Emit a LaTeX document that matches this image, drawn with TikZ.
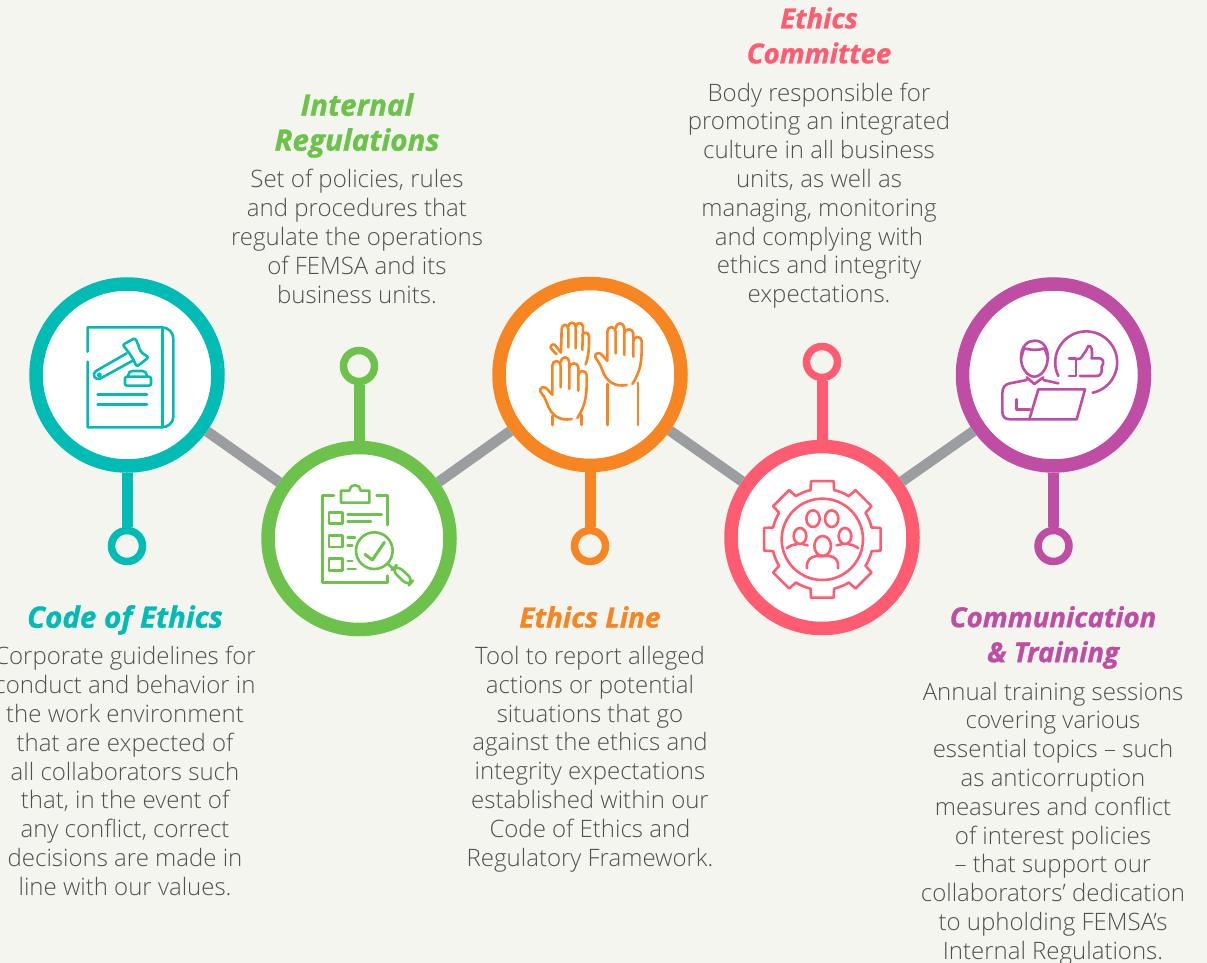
\documentclass[tikz,border=0pt]{standalone}
\usepackage{fontspec}
\setmainfont{Open Sans Light}
\newfontfamily\titlefont[BoldItalicFeatures={FakeBold=0.9}]{Open Sans}
\definecolor{bgc}{HTML}{F4F5EE}
\definecolor{cteal}{HTML}{00BCB4}
\definecolor{cgreen}{HTML}{6CC24A}
\definecolor{corange}{HTML}{F68522}
\definecolor{cpink}{HTML}{FF5C72}
\definecolor{cpurple}{HTML}{BF4DA4}
\definecolor{cgray}{HTML}{9A9EA1}
\definecolor{ctext}{HTML}{505050}
\tikzset{
  ring/.style={circle,draw=#1,fill=white,line width=13.5pt,minimum size=182pt,inner sep=0pt},
  dot/.style={circle,draw=#1,fill=bgc,line width=7.5pt,minimum size=31pt,inner sep=0pt},
  stem/.style={draw=#1,line width=11pt},
  link/.style={draw=cgray,line width=10.5pt},
  head/.style={text=#1,align=center,inner sep=0pt},
  hsize/.style={font=\titlefont\fontsize{#1}{35}\selectfont\bfseries\itshape},
  body/.style={text=ctext,font=\fontsize{24}{28.8}\selectfont,align=center,inner sep=0pt},
  icon/.style={draw=#1,line width=2.6pt,line cap=round,line join=round,x=0.33333pt,y=-0.33333pt}
}
\begin{document}
\begin{tikzpicture}[x=1pt,y=-1pt]
\useasboundingbox (0,0) rectangle (1207,963);
\fill[bgc] (0,0) rectangle (1207,963);
% rings and dots
\node[ring=cteal] (c1) at (127,375) {};
\node[ring=cgreen] (c2) at (359,538.5) {};
\node[ring=corange] (c3) at (590,374.5) {};
\node[ring=cpink] (c4) at (822,537.5) {};
\node[ring=cpurple] (c5) at (1053.5,375) {};
\node[dot=cteal] (d1) at (127,546) {};
\node[dot=cgreen] (d2) at (359,366) {};
\node[dot=corange] (d3) at (590,546) {};
\node[dot=cpink] (d4) at (822,362) {};
\node[dot=cpurple] (d5) at (1053.5,546) {};
% connectors
\draw[link] (c1) -- (c2);
\draw[link] (c2) -- (c3);
\draw[link] (c3) -- (c4);
\draw[link] (c4) -- (c5);
\draw[stem=cteal] (c1) -- (d1);
\draw[stem=cgreen] (c2) -- (d2);
\draw[stem=corange] (c3) -- (d3);
\draw[stem=cpink] (c4) -- (d4);
\draw[stem=cpurple] (c5) -- (d5);
% icon 1
\begin{scope}[xshift=20pt,yshift=-270pt,icon=cteal]
\draw (203,245) -- (203,172) -- (425,172) arc (-90:0:35 and 33) -- (460,440) arc (0:90:35 and 32) -- (203,472) -- (203,275);
\draw (427,172) -- (427,472);
\draw (233,373) -- (381,373) (233,404) -- (381,404);
\draw[rounded corners=2pt] (308,225) -- (345,204) -- (353,220) -- (362,246) -- (386,262) -- (350,290) -- (340,268) -- (325,245) -- cycle;
\draw (320,250) -- (228,303) arc (240:60:13) -- (342,270);
\draw (238,315) circle (4);
\draw[rounded corners=4pt] (325,320) -- (325,303) -- (380,303) -- (380,320);
\draw[rounded corners=2pt] (315,320) -- (393,320) -- (393,347) -- (315,347) -- cycle;
\end{scope}
% icon 2
\begin{scope}[xshift=255pt,yshift=-435pt,icon=cgreen]
\draw (237,182) -- (203,182) -- (203,442) -- (397,442) -- (397,422);
\draw (365,182) -- (397,182) -- (397,270);
\draw (258,203) -- (258,167) -- (283,167) arc (180:360:17) -- (343,167) -- (343,203) -- cycle;
\draw (222,232) rectangle (262,266);
\draw (222,302) rectangle (262,336);
\draw (222,370) rectangle (262,406);
\draw (278,238) -- (380,238) (278,260) -- (348,260);
\draw (278,308) -- (300,308) (278,331) -- (292,331);
\draw (278,378) -- (292,378) (278,402) -- (302,402);
\draw (358,347) circle (55);
\draw[line width=3pt] (330,358) -- (352,375) -- (388,322);
\draw (398,386) -- (413,400);
\draw[rounded corners=7pt] (425,390) -- (475,435) -- (460,453) -- (410,405) -- cycle;
\end{scope}
% icon 3
\begin{scope}[xshift=485pt,yshift=-270pt,icon=corange]
\foreach \dx/\dy in {0/0,-165/102}{
\begin{scope}[xshift=\dx*0.33333pt,yshift=-\dy*0.33333pt]
\draw (367,272) -- (367,185) arc (180:360:12.5 and 14) -- (392,250);
\draw (392,175) arc (180:360:13 and 15) -- (418,255);
\draw (418,190) arc (180:360:13.5 and 12) -- (445,260);
\draw (445,213) arc (180:360:12.5 and 12) -- (470,225) .. controls (470,265) and (470,300) .. (442,342);
\draw (425,345) .. controls (390,352) and (362,335) .. (350,295) .. controls (345,282) and (338,272) .. (331,262) .. controls (328,250) and (342,245) .. (350,254) -- (367,272);
\end{scope}}
\draw (367,465) -- (367,342) (459,465) -- (459,338);
\draw (203,465) -- (203,438) (290,465) -- (290,435);
% back hand
\draw (228,248) -- (209,224) .. controls (200,220) and (192,232) .. (200,238) -- (214,252);
\draw (228,245) -- (230,178) arc (180:360:10 and 14) -- (250,232);
\draw (250,170) arc (180:360:11 and 12) -- (272,235);
\draw (272,170) arc (180:360:11 and 11) -- (292,240);
\draw (292,198) arc (180:360:10 and 10) -- (312,215) .. controls (312,240) and (310,260) .. (302,283);
\end{scope}
% icon 4
\begin{scope}[xshift=720pt,yshift=-435pt,icon=cpink]
\begin{scope}[shift={(307,313)}]
\foreach \a in {0,45,...,315}{
\draw (\a-13.5:152) -- (\a-11:178) -- (\a+11:178) -- (\a+13.5:152) arc (\a+13.5:\a+31.5:152);
}
\draw (0,0) circle (122);
\end{scope}
\draw (279,251) ellipse (20 and 25);
\draw (335,251) ellipse (20 and 25);
\draw (240,303) ellipse (19 and 24);
\draw (375,303) ellipse (19 and 24);
\draw (308,333) ellipse (25 and 30);
\draw (261,400) .. controls (258,375) and (272,365) .. (290,363) -- (327,363) .. controls (345,365) and (357,375) .. (354,400);
\draw (200,340) .. controls (208,333) and (220,328) .. (230,328) (250,328) -- (263,331);
\draw (350,331) -- (365,328) (385,328) .. controls (397,329) and (408,333) .. (415,340);
\end{scope}
% icon 5
\begin{scope}[xshift=950pt,yshift=-270pt,icon=cpurple]
\draw (213,265) .. controls (213,295) and (233,320) .. (253,320) .. controls (273,320) and (293,295) .. (293,265);
\draw (213,265) .. controls (213,225) and (235,212) .. (255,212) .. controls (280,212) and (294,235) .. (294,265) -- (284,235) .. controls (265,242) and (240,240) .. (222,235) -- (213,265);
\draw (230,322) -- (253,342) -- (280,322);
\draw (280,330) -- (325,340);
\draw (230,330) -- (180,340) .. controls (165,343) and (157,352) .. (157,370) -- (157,425) .. controls (157,440) and (165,448) .. (180,448) -- (238,448);
\draw (200,388) -- (200,418) -- (240,418);
\draw (265,358) -- (405,358) -- (380,448) -- (238,448) -- cycle;
\draw (325,318) arc (154:438:93);
\draw (357,265) -- (378,265) -- (378,318) -- (357,318);
\draw (378,268) -- (392,265) .. controls (403,250) and (410,240) .. (415,228) .. controls (425,226) and (428,240) .. (425,265) -- (450,265) .. controls (462,268) and (462,280) .. (455,290) .. controls (458,310) and (450,318) .. (440,318) -- (390,318);
\end{scope}
% titles
\node[head=cteal,hsize=29.5] (t1) at (125,620) {Code of Ethics};
\node[head=cgreen,hsize=29.6] (t2) at (357,125.5) {Internal\\Regulations};
\node[head=corange,hsize=28] (t3) at (590,617) {Ethics Line};
\node[head=cpink,hsize=27.6] (t4) at (819,35.5) {Ethics\\Committee};
\node[head=cpurple,hsize=27.6] (t5) at (1053,637.5) {Communication\\\&~Training};
% bodies
\node[body] (b1) at (125,771) {Corporate guidelines for\\conduct and behavior in\\the work environment\\that are expected of\\all collaborators such\\that, in the event of\\any conflict, correct\\decisions are made in\\line with our values.};
\node[body] (b2) at (357,236.5) {Set of policies, rules\\and procedures that\\regulate the operations\\of FEMSA and its\\business units.};
\node[body] (b3) at (590,759) {Tool to report alleged\\actions or potential\\situations that go\\against the ethics and\\integrity expectations\\established within our\\Code of Ethics and\\Regulatory Framework.};
\node[body] (b4) at (819,195.5) {Body responsible for\\promoting an integrated\\culture in all business\\units, as well as\\managing, monitoring\\and complying with\\ethics and integrity\\expectations.};
\node[body] (b5) at (1053,823.5) {Annual training sessions\\covering various\\essential topics -- such\\as anticorruption\\measures and conflict\\of interest policies\\-- that support our\\collaborators' dedication\\to upholding FEMSA's\\Internal Regulations.};
\end{tikzpicture}
\end{document}
